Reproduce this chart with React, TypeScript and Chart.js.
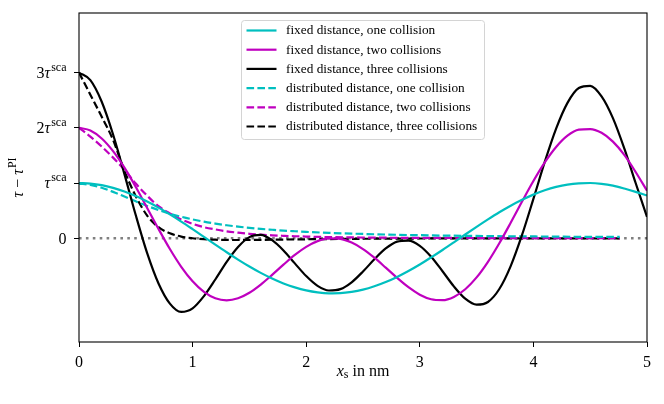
import React, { useEffect, useRef } from "react";
import { Chart, registerables } from "chart.js";

Chart.register(...registerables);

// fixed distance: sampled every 0.1 nm
const xFixed = [
  0, 0.1, 0.2, 0.3, 0.4, 0.5, 0.6, 0.7, 0.8, 0.9, 1.0, 1.1, 1.2, 1.3, 1.4, 1.5, 1.6, 1.7, 1.8, 1.9, 2.0,
  2.1, 2.2, 2.3, 2.4, 2.5, 2.6, 2.7, 2.8, 2.9, 3.0, 3.1, 3.2, 3.3, 3.4, 3.5, 3.6, 3.7, 3.8, 3.9, 4.0,
  4.1, 4.2, 4.3, 4.4, 4.5, 4.6, 4.7, 4.8, 4.9, 5.0,
];
const fixedOne = [
  1.0, 0.99, 0.961, 0.912, 0.846, 0.763, 0.665, 0.555, 0.432, 0.302, 0.165, 0.025, -0.116, -0.254, -0.387,
  -0.513, -0.628, -0.73, -0.82, -0.891, -0.946, -0.982, -0.999, -0.996, -0.973, -0.932, -0.871, -0.794,
  -0.701, -0.594, -0.476, -0.347, -0.213, -0.074, 0.067, 0.206, 0.341, 0.47, 0.589, 0.696, 0.79, 0.868,
  0.929, 0.972, 0.995, 1.0, 0.985, 0.952, 0.9, 0.84, 0.775,
];
const fixedTwo = [
  2.0, 1.951, 1.807, 1.577, 1.278, 0.928, 0.549, 0.168, -0.196, -0.518, -0.781, -0.974, -1.089, -1.125,
  -1.088, -0.989, -0.84, -0.664, -0.479, -0.302, -0.156, -0.053, -0.004, -0.012, -0.079, -0.196, -0.353,
  -0.533, -0.718, -0.888, -1.023, -1.106, -1.122, -1.063, -0.925, -0.71, -0.427, -0.091, 0.28, 0.664,
  1.036, 1.374, 1.654, 1.859, 1.968, 1.978, 1.91, 1.75, 1.51, 1.2, 0.86,
];
const fixedThree = [
  3.0, 2.863, 2.472, 1.879, 1.162, 0.415, -0.271, -0.82, -1.185, -1.335, -1.27, -1.048, -0.748, -0.429,
  -0.159, 0.02, 0.06, -0.036, -0.222, -0.456, -0.686, -0.863, -0.947, -0.922, -0.798, -0.603, -0.382,
  -0.186, -0.062, -0.042, -0.137, -0.334, -0.598, -0.873, -1.095, -1.204, -1.155, -0.92, -0.505, 0.059,
  0.712, 1.382, 1.986, 2.452, 2.721, 2.761, 2.569, 2.175, 1.627, 1.0, 0.385,
];

// distributed distance: denser near the origin, curve stops at 4.76 nm
const xDist = [
  0, 0.1, 0.2, 0.3, 0.4, 0.5, 0.6, 0.7, 0.8, 0.9, 1.0, 1.1, 1.2, 1.3, 1.4, 1.5, 1.6, 1.7, 1.8, 1.9, 2.0,
  2.2, 2.4, 2.6, 2.8, 3.0, 3.2, 3.4, 3.6, 3.8, 4.0, 4.2, 4.4, 4.6, 4.76,
];
const distOne = [
  0.99, 0.965, 0.915, 0.84, 0.755, 0.668, 0.585, 0.511, 0.445, 0.389, 0.341, 0.3, 0.265, 0.235, 0.21,
  0.188, 0.169, 0.153, 0.138, 0.126, 0.115, 0.097, 0.083, 0.072, 0.062, 0.055, 0.048, 0.043, 0.039,
  0.035, 0.032, 0.029, 0.026, 0.024, 0.023,
];
const distTwo = [
  2.0, 1.84, 1.66, 1.46, 1.24, 0.99, 0.77, 0.58, 0.45, 0.34, 0.26, 0.2, 0.16, 0.125, 0.1, 0.08, 0.065,
  0.053, 0.044, 0.036, 0.03, 0.021, 0.015, 0.011, 0.008, 0.006, 0.005, 0.004, 0.003, 0.003, 0.002,
  0.002, 0.002, 0.001, 0.001,
];
const distThree = [
  3.0, 2.6, 2.2, 1.78, 1.22, 0.76, 0.41, 0.2, 0.09, 0.03, 0.0, -0.018, -0.027, -0.031, -0.032, -0.031,
  -0.029, -0.027, -0.024, -0.021, -0.019, -0.015, -0.011, -0.009, -0.007, -0.005, -0.004, -0.003,
  -0.003, -0.002, -0.002, -0.001, -0.001, -0.001, -0.001,
];

const zeroX = [0, 5];
const zeroY = [0, 0];

const seriesLabels = [
  "fixed distance, one collision",
  "fixed distance, two collisions",
  "fixed distance, three collisions",
  "distributed distance, one collision",
  "distributed distance, two collisions",
  "distributed distance, three collisions",
];

const xTicks = [0, 1, 2, 3, 4, 5];
const yTicks = [0, 1, 2, 3];
const yTickCoef = ["0", "", "2", "3"];

const CYAN = "#00bfbf";
const MAGENTA = "#bf00bf";
const BLACK = "#000000";
const SERIF = "'Liberation Serif', 'Times New Roman', serif";
const DASH = [7.6, 3.3];
const LW = 2.2;

const pts = (xs: number[], ys: number[]) => xs.map((x, i) => ({ x, y: ys[i] }));

// frame, y tick labels with superscripts, axis titles and the legend box
const decorations = {
  id: "decorations",
  afterDraw(chart: any) {
    const { ctx, chartArea: a, scales } = chart;
    ctx.save();

    ctx.strokeStyle = "#000";
    ctx.lineWidth = 1.1;
    ctx.strokeRect(a.left, a.top, a.right - a.left, a.bottom - a.top);

    // y tick labels like 2τ^sca
    const right = a.left - 12.5;
    const MAIN = 16;
    const SUP = 12;
    ctx.fillStyle = "#000";
    ctx.textBaseline = "alphabetic";
    yTicks.forEach((v, i) => {
      const base = scales.y.getPixelForValue(v) + 5.3;
      if (v === 0) {
        ctx.font = `${MAIN}px ${SERIF}`;
        ctx.textAlign = "right";
        ctx.fillText(yTickCoef[i], right, base);
        return;
      }
      ctx.textAlign = "left";
      ctx.font = `${MAIN}px ${SERIF}`;
      const wc = ctx.measureText(yTickCoef[i]).width;
      ctx.font = `italic ${MAIN}px ${SERIF}`;
      const wt = ctx.measureText("τ").width;
      ctx.font = `${SUP}px ${SERIF}`;
      const ws = ctx.measureText("sca").width;
      let x = right - (wc + wt + 1 + ws);
      ctx.font = `${MAIN}px ${SERIF}`;
      ctx.fillText(yTickCoef[i], x, base);
      x += wc;
      ctx.font = `italic ${MAIN}px ${SERIF}`;
      ctx.fillText("τ", x, base);
      x += wt + 1;
      ctx.font = `${SUP}px ${SERIF}`;
      ctx.fillText("sca", x, base - 7);
    });

    // x title: x_s in nm
    {
      ctx.font = `italic ${MAIN}px ${SERIF}`;
      const w1 = ctx.measureText("x").width;
      ctx.font = `${SUP}px ${SERIF}`;
      const w2 = ctx.measureText("s").width;
      ctx.font = `${MAIN}px ${SERIF}`;
      const w3 = ctx.measureText(" in nm").width;
      let x = (a.left + a.right) / 2 - (w1 + w2 + w3) / 2;
      const base = a.bottom + 33.7;
      ctx.textAlign = "left";
      ctx.font = `italic ${MAIN}px ${SERIF}`;
      ctx.fillText("x", x, base);
      x += w1;
      ctx.font = `${SUP}px ${SERIF}`;
      ctx.fillText("s", x, base + 2.5);
      x += w2;
      ctx.font = `${MAIN}px ${SERIF}`;
      ctx.fillText(" in nm", x, base);
    }

    // y title: τ − τ^PI, rotated
    {
      ctx.save();
      ctx.translate(22.5, (a.top + a.bottom) / 2);
      ctx.rotate(-Math.PI / 2);
      ctx.font = `italic ${MAIN}px ${SERIF}`;
      const wt = ctx.measureText("τ").width;
      ctx.font = `${MAIN}px ${SERIF}`;
      const wm = ctx.measureText(" − ").width;
      ctx.font = `${SUP}px ${SERIF}`;
      const wp = ctx.measureText("PI").width;
      let x = -(wt * 2 + wm + wp + 1) / 2;
      ctx.textAlign = "left";
      ctx.font = `italic ${MAIN}px ${SERIF}`;
      ctx.fillText("τ", x, 0);
      x += wt;
      ctx.font = `${MAIN}px ${SERIF}`;
      ctx.fillText(" − ", x, 0);
      x += wm;
      ctx.font = `italic ${MAIN}px ${SERIF}`;
      ctx.fillText("τ", x, 0);
      x += wt + 1;
      ctx.font = `${SUP}px ${SERIF}`;
      ctx.fillText("PI", x, -7);
      ctx.restore();
    }

    // legend
    const lx = a.left + 162.5;
    const ly = a.top + 7.5;
    const lw = 243;
    const lh = 119;
    ctx.beginPath();
    ctx.roundRect(lx, ly, lw, lh, 3);
    ctx.fillStyle = "rgba(255,255,255,0.85)";
    ctx.fill();
    ctx.strokeStyle = "#d4d4d4";
    ctx.lineWidth = 1;
    ctx.stroke();

    const items = chart.data.datasets.filter((d: any) => d.label);
    items.forEach((d: any, i: number) => {
      const y = ly + 10 + i * 19.2;
      ctx.beginPath();
      ctx.setLineDash(d.borderDash || []);
      ctx.strokeStyle = d.borderColor;
      ctx.lineWidth = d.borderWidth;
      ctx.moveTo(lx + 5, y);
      ctx.lineTo(lx + 35, y);
      ctx.stroke();
      ctx.setLineDash([]);
      ctx.fillStyle = "#000";
      ctx.font = `13.3px ${SERIF}`;
      ctx.textAlign = "left";
      ctx.textBaseline = "middle";
      ctx.fillText(d.label, lx + 44.5, y + 0.5);
    });

    ctx.restore();
  },
};

const App: React.FC = () => {
  const canvasRef = useRef<HTMLCanvasElement | null>(null);

  useEffect(() => {
    document.body.style.margin = "0";
    if (!canvasRef.current) return;

    const chart = new Chart(canvasRef.current, {
      type: "line",
      data: {
        datasets: [
          { label: seriesLabels[0], data: pts(xFixed, fixedOne), borderColor: CYAN, borderWidth: LW },
          { label: seriesLabels[1], data: pts(xFixed, fixedTwo), borderColor: MAGENTA, borderWidth: LW },
          { label: seriesLabels[2], data: pts(xFixed, fixedThree), borderColor: BLACK, borderWidth: LW },
          { label: seriesLabels[3], data: pts(xDist, distOne), borderColor: CYAN, borderWidth: LW, borderDash: DASH },
          { label: seriesLabels[4], data: pts(xDist, distTwo), borderColor: MAGENTA, borderWidth: LW, borderDash: DASH },
          { label: seriesLabels[5], data: pts(xDist, distThree), borderColor: BLACK, borderWidth: LW, borderDash: DASH },
          { label: "", data: pts(zeroX, zeroY), borderColor: "#808080", borderWidth: 2.6, borderDash: [2.6, 4.3] },
        ],
      },
      options: {
        animation: false,
        responsive: true,
        maintainAspectRatio: false,
        layout: { padding: { top: 13, right: 17, left: 0, bottom: 0 } },
        elements: {
          point: { radius: 0, hoverRadius: 0 },
          line: { cubicInterpolationMode: "monotone", borderCapStyle: "butt" },
        },
        plugins: { legend: { display: false }, tooltip: { enabled: false } },
        events: [],
        scales: {
          x: {
            type: "linear",
            min: 0,
            max: 5,
            afterBuildTicks: (s: any) => {
              s.ticks = xTicks.map((value) => ({ value }));
            },
            afterFit: (s: any) => {
              s.height = 62;
            },
            ticks: {
              color: "#000",
              font: { family: SERIF, size: 16 },
              padding: 6.5,
              maxRotation: 0,
            },
            grid: { drawOnChartArea: false, drawTicks: true, tickLength: 5, tickColor: "#000", tickWidth: 1 },
            border: { display: false },
          },
          y: {
            type: "linear",
            min: -1.88,
            max: 4.08,
            afterBuildTicks: (s: any) => {
              s.ticks = yTicks.map((value) => ({ value }));
            },
            afterFit: (s: any) => {
              s.width = 79;
            },
            ticks: { display: false },
            grid: { drawOnChartArea: false, drawTicks: true, tickLength: 5, tickColor: "#000", tickWidth: 1 },
            border: { display: false },
          },
        },
      },
      plugins: [decorations],
    });

    return () => chart.destroy();
  }, []);

  return (
    <div style={{ position: "relative", width: 664, height: 404, background: "#fff" }}>
      <canvas ref={canvasRef}></canvas>
    </div>
  );
};

export default App;
